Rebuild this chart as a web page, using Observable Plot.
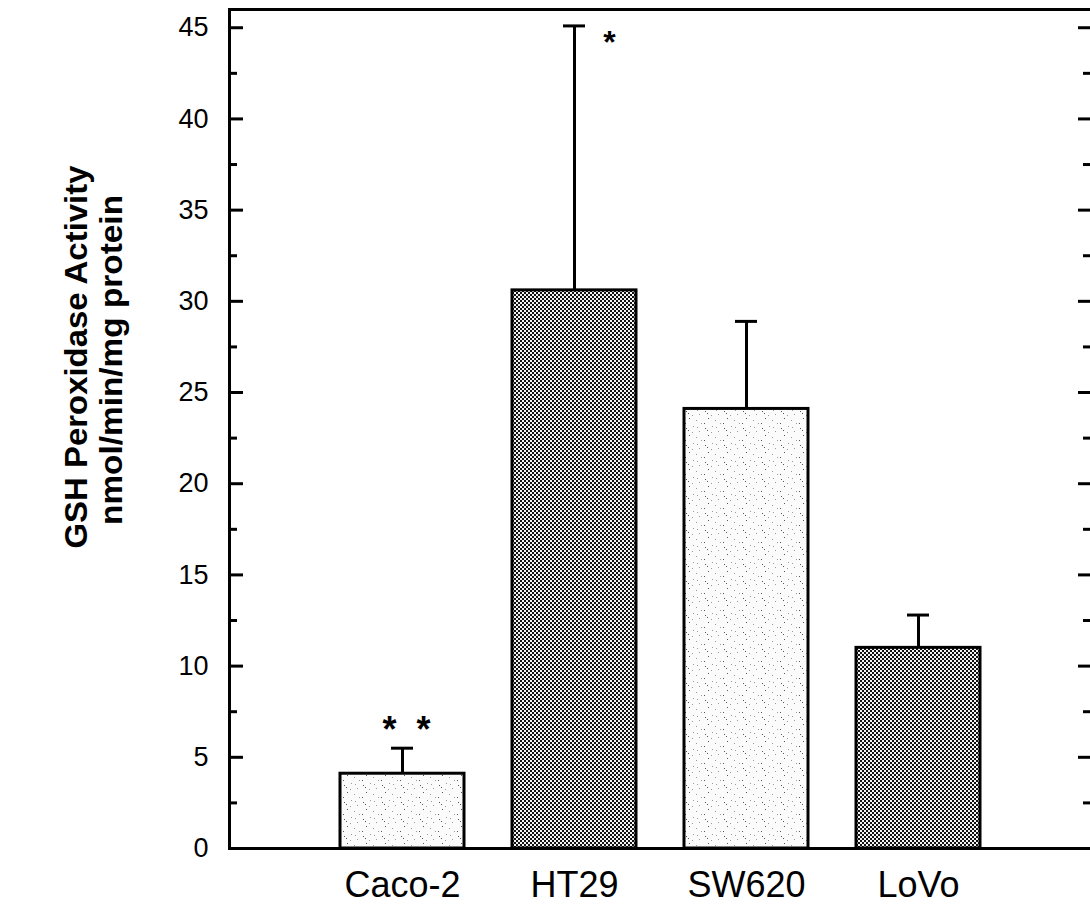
<!DOCTYPE html>
<html>
<head>
<meta charset="utf-8">
<script src="https://cdn.jsdelivr.net/npm/d3@7"></script>
<script src="https://cdn.jsdelivr.net/npm/@observablehq/plot@0.6"></script>
<style>
  body { margin: 0; background: #fff; }
  #chart svg { display: block; }
</style>
</head>
<body>
<div id="chart"></div>
<script>
// GSH peroxidase activity in four colon carcinoma cell lines (mean + SD)
const cells  = ["Caco-2", "HT29", "SW620", "LoVo"];
const means  = [4.1, 30.6, 24.1, 11.0];
const uppers = [5.5, 45.1, 28.9, 12.8];
const shades = ["light", "dark", "light", "dark"];

const majorTicks = [0, 5, 10, 15, 20, 25, 30, 35, 40, 45];
const minorTicks = [2.5, 7.5, 12.5, 17.5, 22.5, 27.5, 32.5, 37.5, 42.5];

// significance markers
const starCells = ["Caco-2", "Caco-2", "HT29"];
const starY     = [6.7, 6.7, 44.4];

const yTitle = ["GSH Peroxidase Activity", "nmol/min/mg protein"];

const rows = cells.map((cell, i) => ({cell, mean: means[i], upper: uppers[i], shade: shades[i]}));
const stars = starCells.map((cell, i) => ({cell, y: starY[i]}));

const W = 1090, H = 906;
const mL = 229, mR = 0, mT = 9, mB = 58;
const frameW = W - mL - mR;
const font = "'Liberation Sans', Arial, Helvetica, sans-serif";

const chart = Plot.plot({
  width: W,
  height: H,
  marginLeft: mL,
  marginRight: mR,
  marginTop: mT,
  marginBottom: mB,
  style: {fontFamily: font, color: "black", background: "white", overflow: "visible"},
  x: {domain: cells, paddingInner: 0.28, paddingOuter: 0.64, label: null},
  y: {domain: [0, 46], label: null},
  marks: [
    // bars
    Plot.barY(rows.filter(d => d.shade === "light"), {x: "cell", y: "mean", fill: "url(#stipple)", stroke: "black", strokeWidth: 3}),
    Plot.barY(rows.filter(d => d.shade === "dark"), {x: "cell", y: "mean", fill: "url(#halftone)", stroke: "black", strokeWidth: 3}),
    // error bars (upper only)
    Plot.ruleX(rows, {x: "cell", y1: "mean", y2: "upper", stroke: "black", strokeWidth: 3}),
    Plot.tickY(rows, {x: "cell", y: "upper", stroke: "black", strokeWidth: 3, insetLeft: 51, insetRight: 51}),
    // frame: left, top, bottom
    Plot.ruleY([0], {stroke: "black", strokeWidth: 3}),
    Plot.ruleY([46], {stroke: "black", strokeWidth: 3}),
    Plot.frame({anchor: "left", stroke: "black", strokeWidth: 3}),
    // inward ticks, left side
    Plot.tickY(majorTicks, {y: d => d, stroke: "black", strokeWidth: 3, insetRight: frameW - 14}),
    Plot.tickY(minorTicks, {y: d => d, stroke: "black", strokeWidth: 3, insetRight: frameW - 8}),
    // inward ticks, right side
    Plot.tickY(majorTicks, {y: d => d, stroke: "black", strokeWidth: 3, insetLeft: frameW - 12}),
    Plot.tickY(minorTicks, {y: d => d, stroke: "black", strokeWidth: 3, insetLeft: frameW - 7}),
    // tick labels
    Plot.axisY({ticks: majorTicks, tickSize: 0, tickPadding: 21, fontSize: 27, tickFormat: d => d}),
    Plot.axisX({tickSize: 0, tickPadding: 23, fontSize: 36}),
    // significance asterisks
    Plot.text(stars.filter(d => d.cell === "Caco-2").slice(0, 1), {x: "cell", y: "y", text: () => "*", dx: -13, dy: 4, fontSize: 36, fontWeight: "bold"}),
    Plot.text(stars.filter(d => d.cell === "Caco-2").slice(1), {x: "cell", y: "y", text: () => "*", dx: 21, dy: 4, fontSize: 36, fontWeight: "bold"}),
    Plot.text(stars.filter(d => d.cell === "HT29"), {x: "cell", y: "y", text: () => "*", dx: 35, dy: 4, fontSize: 32, fontWeight: "bold"})
  ]
});

// fill patterns: sparse stipple and dense halftone
const svg = d3.select(chart);
const defs = svg.insert("defs", ":first-child");
const st = defs.append("pattern").attr("id", "stipple").attr("patternUnits", "userSpaceOnUse")
  .attr("width", 19).attr("height", 17);
st.append("rect").attr("width", 19).attr("height", 17).attr("fill", "#fbfbfb");
[[2,3],[9,1],[15,6],[5,10],[12,12],[17,15],[1,15],[8,7],[13,2],[4,5]].forEach(([x, y], i) =>
  st.append("rect").attr("x", x).attr("y", y).attr("width", 1).attr("height", 1)
    .attr("fill", i % 3 === 0 ? "#555" : "#9a9a9a"));
const ht = defs.append("pattern").attr("id", "halftone").attr("patternUnits", "userSpaceOnUse")
  .attr("width", 4).attr("height", 4);
ht.append("rect").attr("width", 4).attr("height", 4).attr("fill", "#f4f4f4");
ht.append("rect").attr("x", 0).attr("y", 0).attr("width", 2).attr("height", 2).attr("fill", "#111");
ht.append("rect").attr("x", 2).attr("y", 2).attr("width", 2).attr("height", 2).attr("fill", "#111");

// y-axis title: two bold condensed lines, rotated
const titleSpec = [{x: 87, y: 357, len: 383}, {x: 122, y: 360, len: 330}];
svg.append("g").attr("font-family", font).attr("font-weight", "bold").attr("font-size", 32)
  .selectAll("text").data(yTitle).join("text")
  .attr("transform", (d, i) => `translate(${titleSpec[i].x},${titleSpec[i].y}) rotate(-90)`)
  .attr("text-anchor", "middle")
  .attr("textLength", (d, i) => titleSpec[i].len)
  .attr("lengthAdjust", "spacingAndGlyphs")
  .text(d => d);

document.getElementById("chart").appendChild(chart);
</script>
</body>
</html>
